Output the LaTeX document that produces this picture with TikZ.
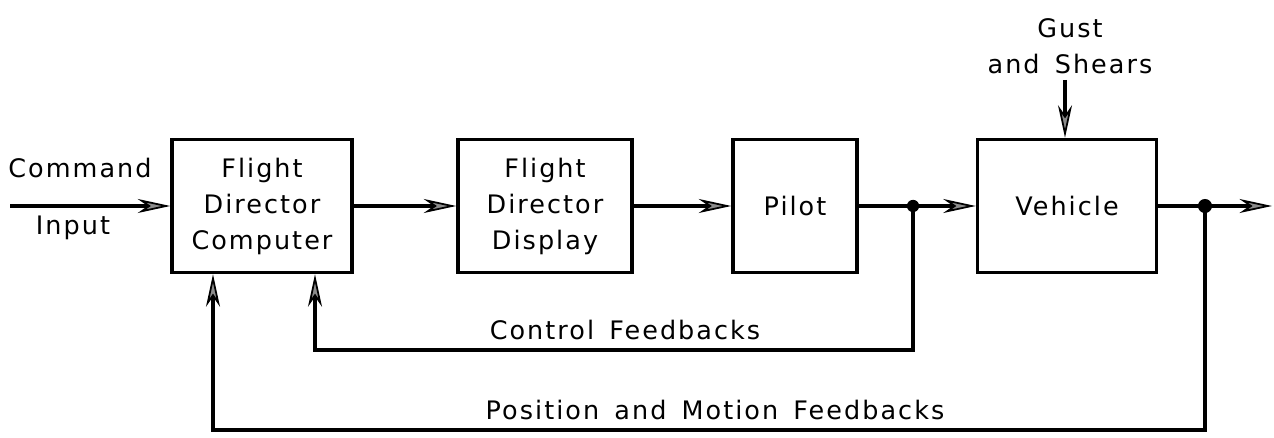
\documentclass[tikz,border=0pt]{standalone}
\usepackage{fontspec}
\setmainfont{DejaVu Sans}[LetterSpace=8, WordSpace=1.5]
\usetikzlibrary{
  positioning,
  arrows.meta,
  calc
}
\tikzset{barb/.tip={Stealth[length=6.5mm,width=2.8mm,inset=2mm,fill=black!45,line width=1pt]}}

\begin{document}
\begin{tikzpicture}[
  x=0.02cm, y=-0.02cm,
  font=\fontsize{14.5}{20.5}\selectfont,
  block/.style={draw, line width=2pt, minimum height=2.66cm, align=center},
  flow/.style={line width=1.8pt, -barb},
  lbl/.style={inner sep=1pt, align=center}
]
  \useasboundingbox (0,0) rectangle (1274,438);

  % forward path
  \node[block, minimum width=3.6cm]  (fdc)     at (262,206)  {Flight\\Director\\Computer};
  \node[block, minimum width=3.48cm] (fdd)     at (545,206)  {Flight\\Director\\Display};
  \node[block, minimum width=2.48cm] (pilot)   at (795,206)  {Pilot};
  \node[block, minimum width=3.58cm] (vehicle) at (1067,206) {Vehicle};

  \coordinate (cmd) at (10,206);
  \coordinate (j1)  at (913,206);
  \coordinate (j2)  at (1205,206);
  \coordinate (out) at (1272,206);

  \node[lbl] (cmdtop) at (80,168) {Command};
  \node[lbl] (cmdbot) at (73,228) {Input};

  \draw[flow] (cmd) -- (fdc);
  \draw[flow] (fdc) -- (fdd);
  \draw[flow] (fdd) -- (pilot);
  \draw[line width=1.8pt] (pilot) -- (j1);
  \draw[flow] (j1) -- (vehicle);
  \draw[line width=1.8pt] (vehicle) -- (j2);
  \draw[flow] (j2) -- (out);
  \fill (j1) circle (3.5pt);
  \fill (j2) circle (4pt);

  % disturbance
  \node[lbl] (gust) at (1070,46) {Gust\\and Shears};
  \coordinate (gin) at (1065,80);
  \draw[flow] (gin) -- (gin |- vehicle.north);

  % feedback loops
  \coordinate (fb1) at (315,350);
  \coordinate (fb2) at (213,430);
  \draw[flow] (j1) |- (fb1) -- (fb1 |- fdc.south);
  \draw[flow] (j2) |- (fb2) -- (fb2 |- fdc.south);

  \node[lbl] (ctrl) at (625,330) {Control Feedbacks};
  \node[lbl] (posn) at (715,410) {Position and Motion Feedbacks};
\end{tikzpicture}
\end{document}
